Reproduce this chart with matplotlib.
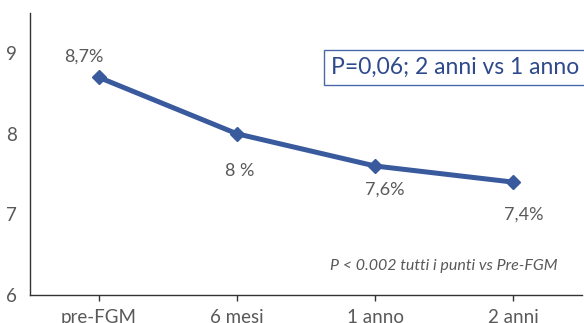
import matplotlib.pyplot as plt

plt.rcParams['font.family'] = ['Lato', 'DejaVu Sans']

timepoints = ['pre-FGM', '6 mesi', '1 anno', '2 anni']
hba1c = [8.7, 8.0, 7.6, 7.4]
value_labels = ['8,7%', '8 %', '7,6%', '7,4%']
# label offsets in pixels from each point (x, y)
label_offsets = [(-15, 21), (3, -37), (10, -24), (11, -33)]

line_col = '#3A5A9E'
text_col = '#595959'

fig = plt.figure(figsize=(5.84, 3.23), dpi=100)
ax = fig.add_axes([0.051, 0.087, 0.946, 0.873])

x = range(len(timepoints))
ax.plot(x, hba1c, color=line_col, linewidth=3.6, marker='D', markersize=7.5)

for i, (val, lab) in enumerate(zip(hba1c, value_labels)):
    dx, dy = label_offsets[i]
    ax.annotate(lab, (i, val), xytext=(dx * 0.72, dy * 0.72), textcoords='offset points',
                ha='center', va='center', fontsize=13, color=text_col)

ax.set_xlim(-0.5, 3.5)
ax.set_ylim(6, 9.5)
ax.set_yticks([6, 7, 8, 9])
ax.set_xticks(list(x))
ax.set_xticklabels(timepoints)
ax.tick_params(axis='y', length=0, pad=9, labelsize=13.5, labelcolor=text_col)
ax.tick_params(axis='x', length=4, width=1, pad=6, labelsize=13.5, labelcolor=text_col, color='#333333')

for side in ['top', 'right']:
    ax.spines[side].set_visible(False)
for side in ['left', 'bottom']:
    ax.spines[side].set_color('#333333')
    ax.spines[side].set_linewidth(1)

ax.text(0.567, 0.79, 'P=0,06; 2 anni vs 1 anno', transform=fig.transFigure,
        fontsize=16.5, color='#2E4A8C', va='center', ha='left',
        bbox=dict(boxstyle='square,pad=0.3', facecolor='white', edgecolor='#4A68A8', linewidth=1))

ax.text(0.955, 0.177, 'P < 0.002 tutti i punti vs Pre-FGM', transform=fig.transFigure,
        fontsize=11.5, style='italic', color=text_col, ha='right', va='center')

fig.savefig('out.png', dpi=100)
